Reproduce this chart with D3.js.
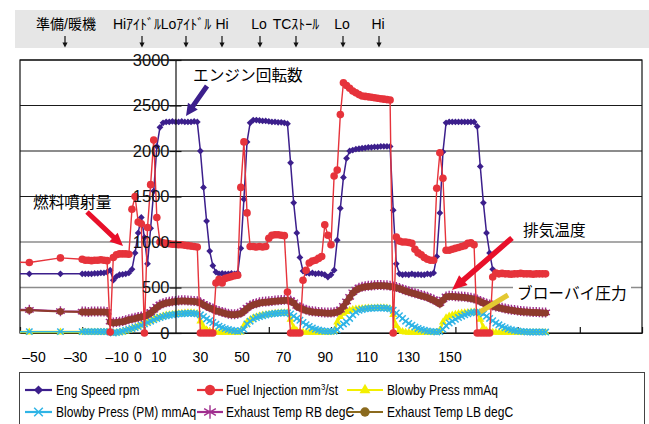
<!DOCTYPE html>
<html>
<head>
<meta charset="utf-8">
<script src="https://cdn.jsdelivr.net/npm/d3@7"></script>
<style>
    body { margin: 0; background: #fff; }
    text { font-family: "Liberation Sans", Arial, "Noto Sans CJK JP", sans-serif; }
    .jp { font-family: "Noto Sans CJK JP", sans-serif; }
</style>
</head>
<body>
<svg id="chart"></svg>
<script>

// Data ///////////////////////////////////////////////////////////////////////

// sample times (s); sparse at first, then 1 Hz logging
const times = [-55, -47, -37,
    -30, -29, -28, -27, -26, -25, -24, -23, -22, -21, -20, -19, -18, -17, -16, -15,
    -14, -13, -12, -11, -10, -9, -8, -7, -6, -5, -4, -3, -2, -1, 0, 1, 2, 3, 4, 5, 6, 7, 8,
    9, 10, 11, 12, 13, 14, 15, 16, 17, 18, 19, 20, 21,
    22, 23, 24, 25, 26, 27, 28, 29, 30, 31, 32, 33, 34, 35, 36,
    37, 38, 39, 40, 41, 42, 43, 44, 45, 46, 47, 48, 49, 50, 51, 52, 53,
    54, 55, 56, 57, 58, 59, 60, 61, 62, 63, 64, 65, 66, 67, 68, 69, 70,
    71, 72, 73, 74, 75, 76, 77, 78, 79, 80, 81, 82, 83, 84, 85, 86, 87,
    88, 89, 90, 91, 92, 93, 94, 95, 96, 97, 98, 99, 100, 101, 102, 103,
    104, 105, 106, 107, 108, 109, 110, 111, 112, 113, 114, 115, 116, 117, 118, 119];

const engSpeed = [650, 650, 650,
    650, 650, 650, 650, 655, 655, 660, 660, 670, 690, 580, 620, 640, 645, 650, 660,
    700, 880, 1100, 1270, 1050, 760, 1150, 1560, 2050, 2260, 2310,
    2320, 2320, 2325, 2320, 2320, 2325, 2320, 2320, 2320, 2325, 2320,
    2000, 1600, 1230, 900, 740, 670,
    650, 655, 650, 650, 655, 650, 660,
    930, 1470, 2100, 2310,
    2340, 2340, 2335, 2330, 2330, 2325, 2320, 2320, 2315, 2315, 2310,
    2300, 1870, 1430, 1100, 830, 680,
    660, 655, 660, 650, 655, 650, 640,
    615, 640, 690, 1020, 1370, 1710, 1920, 2000,
    2010, 2020, 2025, 2030, 2035, 2040, 2040, 2045, 2045, 2050, 2050, 2050, 2050,
    1350, 760, 650,
    640, 645, 640, 650, 640, 645, 640, 640, 650, 645, 660,
    840, 1320, 1990, 2310,
    2320, 2320, 2320, 2320, 2320, 2320, 2320, 2320, 2320,
    2270, 1830, 1430, 1100, 880, 700, 660,
    650, 650, 650, 650, 650, 650, 650, 650, 650, 650, 650, 650, 650, 650, 650, 650];

const fuelInjection = [780, 775, 825,
    810, 800, 800, 795, 800, 800, 805, 800, 795, 10, 830, 860, 870, 870, 870, 865,
    1360, 1500, 1220, 1200, 0, 1160, 1630, 2120, 1270, 1000,
    990, 985, 980, 975, 975, 970, 970, 965, 960, 955, 950, 945,
    0, 0, 0, 0, 0,
    550, 590, 550, 600, 610, 620, 630, 635,
    1600, 2100, 1320, 950, 950, 945, 950, 945, 950,
    1040, 1075, 1080, 1080, 1075, 1070,
    450, 0, 0, 0, 0,
    580, 690, 770, 790, 800, 820, 840,
    1190, 1075, 970, 1725, 1790, 2400, 2750,
    2720, 2690, 2660, 2640, 2620, 2605, 2600, 2595, 2590, 2585, 2580, 2575, 2570, 2565, 2560,
    0, 1055, 1010, 1000, 1000, 995, 985, 920, 880, 860, 830, 810, 800, 800,
    1590, 1980, 1700, 910, 910, 920, 930, 940, 950, 960, 985, 990, 970,
    0, 0, 0, 0, 0, 615, 660,
    650, 655, 650, 650, 645, 650, 650, 655, 650, 650, 650, 645, 650, 650, 650, 650];

const blowbyPress = [10, 10, 10,
    10, 10, 10, 10, 10, 10, 10, 10, 10, 5, 0, 0, 5, 10, 20, 30,
    45, 60, 75, 90, 105, 120, 135, 150, 165, 175, 185, 195, 200, 205, 210, 212, 215, 218, 220, 220, 218, 212, 130,
    65, 35, 20, 12, 8, 5, 5, 5, 5, 5, 5, 5, 8,
    80, 120, 145, 165, 178, 188, 195, 200, 205, 210, 215, 218, 220, 222, 220,
    150, 60, 25, 12, 8, 5, 5, 5, 5, 5, 5, 5, 5, 8, 20, 120, 180,
    215, 235, 248, 258, 262, 265, 268, 270, 272, 272, 274, 275, 275, 275, 272, 265, 200,
    80, 30, 15, 8, 5, 5, 5, 5, 5, 5, 5, 5, 5, 8, 30, 120, 165,
    185, 195, 205, 212, 218, 222, 225, 228, 228, 220, 150, 60, 25, 12, 8, 5,
    5, 5, 5, 5, 5, 5, 5, 5, 5, 5, 5, 5, 5, 5, 5, 5];

const blowbyPressPM = [15, 15, 15,
    15, 15, 15, 15, 15, 15, 15, 15, 15, 10, 0, 5, 10, 20, 30, 40,
    50, 60, 70, 85, 100, 115, 130, 145, 160, 170, 180, 190, 195, 200, 205, 210, 212, 215, 218, 218, 215, 210, 200,
    180, 155, 135, 115, 95, 75, 60, 48, 38, 30, 25, 20, 25,
    40, 100, 130, 155, 170, 180, 190, 198, 205, 210, 215, 218, 220, 222, 222,
    210, 185, 160, 140, 115, 92, 72, 55, 42, 32, 25, 20, 18, 18, 20, 35, 70,
    100, 120, 160, 200, 230, 250, 258, 265, 270, 272, 275, 275, 275, 275, 272, 265, 250,
    220, 190, 160, 130, 105, 85, 65, 50, 40, 30, 22, 18, 15, 12, 15, 40, 80,
    110, 130, 150, 170, 185, 200, 212, 222, 228, 230, 225, 210, 185, 160, 135, 110,
    90, 72, 58, 45, 35, 28, 22, 18, 15, 12, 10, 10, 10, 10, 10, 10];

const exhaustRB = [255, 255, 240,
    235, 235, 232, 235, 235, 236, 235, 235, 232, 125, 115, 120, 125, 132, 140, 150,
    158, 168, 176, 182, 192, 208, 228, 258, 290, 312, 328, 338, 343, 348, 352, 358, 360, 360, 358, 355, 352, 348, 338,
    318, 298, 282, 268, 252, 242, 232, 222, 212, 207, 206, 212, 222,
    248, 278, 302, 318, 328, 338, 343, 346, 348, 352, 356, 360, 363, 366, 368,
    358, 338, 298, 282, 270, 255, 245, 240, 235, 232, 228, 226, 225, 225, 228, 236, 258,
    298, 348, 398, 448, 478, 498, 508, 515, 520, 523, 526, 528, 528, 526, 524, 520, 512,
    505, 495, 482, 470, 458, 448, 438, 428, 418, 408, 398, 382, 368, 348, 328, 368, 402,
    408, 408, 405, 402, 400, 398, 392, 388, 378, 368, 352, 338, 325, 312, 302, 292,
    285, 278, 270, 262, 256, 252, 246, 242, 238, 236, 234, 232, 230, 228, 226, 226];

const exhaustLB = [250, 250, 235,
    230, 230, 228, 230, 230, 232, 230, 230, 228, 120, 110, 115, 120, 125, 135, 145,
    150, 160, 170, 175, 185, 200, 220, 250, 280, 305, 320, 330, 335, 340, 345, 350, 352, 352, 350, 348, 345, 340, 330,
    310, 290, 275, 260, 245, 235, 225, 215, 205, 200, 200, 205, 215,
    240, 270, 295, 310, 320, 330, 335, 338, 340, 345, 348, 352, 355, 358, 360,
    350, 330, 290, 275, 262, 248, 238, 232, 228, 225, 222, 220, 218, 218, 222, 230, 250,
    290, 340, 390, 440, 470, 490, 500, 507, 512, 515, 518, 520, 520, 518, 516, 512, 505,
    498, 488, 475, 462, 450, 440, 430, 420, 410, 400, 390, 375, 360, 340, 320, 360, 395,
    400, 400, 398, 395, 392, 390, 385, 380, 370, 360, 345, 330, 318, 305, 295, 285,
    278, 270, 262, 255, 250, 245, 240, 236, 232, 230, 228, 226, 224, 222, 220, 220];

const yTicks = [0, 500, 1000, 1500, 2000, 2500, 3000];
const xTicks = [-50, -30, -10, 10, 30, 50, 70, 90, 110, 130, 150];
const xTickLabels = [-50, -30, -10, 0, 10, 30, 50, 70, 90, 110, 130, 150];

const phases = ["準備/暖機", "Hiｱｲﾄﾞﾙ", "Loｱｲﾄﾞﾙ", "Hi", "Lo", "TCｽﾄｰﾙ", "Lo", "Hi"];


// Layout /////////////////////////////////////////////////////////////////////

const params = {
    width: 649,
    height: 424,
    left: 20,
    right: 642,
    top: 60,
    bottom: 333
};

const phaseTextX = [66, 137, 186, 222, 259, 296, 342, 378];
const phaseArrowX = [65, 142, 186, 222, 260, 296, 343, 379];

const series = [
    { name: "Blowby Press mmAq", values: blowbyPress, color: "#f3ef00", width: 2.5, marker: "triangle" },
    { name: "Blowby Press (PM) mmAq", values: blowbyPressPM, color: "#2fb4e6", width: 1.5, marker: "times" },
    { name: "Exhaust Temp RB degC", values: exhaustRB, color: "#a02e8e", width: 2, marker: "asterisk" },
    { name: "Exhaust Temp LB degC", values: exhaustLB, color: "#8e3a2d", legendColor: "#8b6a1e", width: 2, marker: "dot" },
    { name: "Eng Speed rpm", values: engSpeed, color: "#3c1f8c", width: 1.5, marker: "diamond" },
    { name: "Fuel Injection mm3/st", values: fuelInjection, color: "#e6333b", width: 1.4, marker: "circle" }
];

const legendOrder = [
    "Eng Speed rpm", "Fuel Injection mm3/st", "Blowby Press mmAq",
    "Blowby Press (PM) mmAq", "Exhaust Temp RB degC", "Exhaust Temp LB degC"
];


// Scales /////////////////////////////////////////////////////////////////////

const x = d3.scaleLinear().domain([-50, 150]).range([params.left, params.right]);
const y = d3.scaleLinear().domain([0, 3000]).range([params.bottom, params.top]);
// the printed tick labels sit on their own (narrower) row
const xLabel = d3.scaleLinear().domain([-50, 150]).range([34, 450]);


// Svg ////////////////////////////////////////////////////////////////////////

const svg = d3.select("#chart")
    .attr("width", params.width)
    .attr("height", params.height)
    .attr("viewBox", [0, 0, params.width, params.height]);

svg.append("defs").append("clipPath")
    .attr("id", "plot-clip")
    .append("rect")
        .attr("x", params.left)
        .attr("y", 0)
        .attr("width", params.right - params.left)
        .attr("height", 360);


// Header /////////////////////////////////////////////////////////////////////

const header = svg.append("g");

header.append("rect")
    .attr("x", 15)
    .attr("y", 10)
    .attr("width", 634)
    .attr("height", 38)
    .attr("fill", "#e6e6e6");

header.selectAll(".phase")
    .data(phases)
    .join("text")
    .attr("class", "phase")
    .attr("x", (d, i) => phaseTextX[i])
    .attr("y", 29)
    .attr("text-anchor", "middle")
    .attr("font-size", 14)
    .text(d => d);

// small down arrows under each phase name
const phaseArrow = header.selectAll(".phase-arrow")
    .data(phaseArrowX)
    .join("g")
    .attr("class", "phase-arrow")
    .attr("transform", d => `translate(${d}, 0)`);

phaseArrow.append("line")
    .attr("y1", 36).attr("y2", 45)
    .attr("stroke", "#111")
    .attr("stroke-width", 1.2);

phaseArrow.append("path")
    .attr("d", "M-2.6,42.5L2.6,42.5L0,47.5Z")
    .attr("fill", "#111");


// Grid ///////////////////////////////////////////////////////////////////////

svg.append("g")
    .selectAll("line")
    .data(yTicks.filter(d => d > 0))
    .join("line")
    .attr("x1", params.left)
    .attr("x2", params.right)
    .attr("y1", d => y(d))
    .attr("y2", d => y(d))
    .attr("stroke", d => d <= 1000 ? "#8c8c8c" : "#1a1a1a")
    .attr("stroke-width", d => d <= 1000 ? 1.6 : 1.1);

svg.append("rect")
    .attr("x", params.left)
    .attr("y", params.top)
    .attr("width", params.right - params.left)
    .attr("height", params.bottom - params.top)
    .attr("fill", "none")
    .attr("stroke", "#111")
    .attr("stroke-width", 1.2);

// x axis: ticks pointing up, no labels
svg.append("g")
    .attr("transform", `translate(0, ${params.bottom})`)
    .call(d3.axisTop(x).tickValues(xTicks).tickSize(6).tickSizeOuter(0).tickFormat(""))
    .call(g => g.selectAll("line, path").attr("stroke", "#111").attr("stroke-width", 1.2));


// Series /////////////////////////////////////////////////////////////////////

const plot = svg.append("g").attr("clip-path", "url(#plot-clip)");

series.forEach(s => plot.call(addSeries, s));


// Y axis (drawn over the data) ///////////////////////////////////////////////

const yAxis = svg.append("g")
    .attr("transform", `translate(${x(0)}, 0)`);

yAxis.append("g")
    .call(d3.axisRight(y).tickValues(yTicks).tickSize(6).tickSizeOuter(0).tickFormat(""))
    .call(g => g.selectAll("line, path").attr("stroke", "#111").attr("stroke-width", 1.2));

yAxis.append("g")
    .call(d3.axisLeft(y).tickValues(yTicks).tickSize(6).tickSizeOuter(0).tickPadding(0)
        .tickFormat(d3.format("d")))
    .call(g => g.select(".domain").remove())
    .call(g => g.selectAll("line").attr("stroke", "#111").attr("stroke-width", 1.2))
    .call(g => g.selectAll("text")
        .attr("font-size", 16.5)
        .attr("font-family", "Liberation Sans, Arial, sans-serif")
        .attr("fill", "#111"));

// x tick labels
svg.append("g")
    .selectAll("text")
    .data(xTickLabels)
    .join("text")
    .attr("x", d => xLabel(d))
    .attr("y", 362)
    .attr("text-anchor", "middle")
    .attr("font-size", 14)
    .text(d => d < 0 ? "–" + Math.abs(d) : d);


// Annotations ////////////////////////////////////////////////////////////////

const notes = svg.append("g").attr("class", "jp");

notes.append("text")
    .attr("x", 193).attr("y", 81)
    .attr("font-size", 15.7)
    .text("エンジン回転数");
notes.append("polygon")
    .attr("points", arrowPoints([207, 86], [186, 116], 5, 12, 12))
    .attr("fill", "#3c1f8c");

notes.append("text")
    .attr("x", 33).attr("y", 208)
    .attr("font-size", 15.7)
    .text("燃料噴射量");
notes.append("polygon")
    .attr("points", arrowPoints([87, 212], [123, 246], 5, 13, 12))
    .attr("fill", "#e8102a");

notes.append("text")
    .attr("x", 523).attr("y", 236)
    .attr("font-size", 15.7)
    .text("排気温度");
notes.append("polygon")
    .attr("points", arrowPoints([512, 238], [452, 290], 5.5, 15, 13))
    .attr("fill", "#e8102a");

notes.append("rect")
    .attr("x", 513).attr("y", 283)
    .attr("width", 118).attr("height", 20)
    .attr("fill", "#fff");
notes.append("text")
    .attr("x", 517).attr("y", 299)
    .attr("font-size", 15.7)
    .text("ブローバイ圧力");
notes.append("line")
    .attr("x1", 508).attr("y1", 295)
    .attr("x2", 480).attr("y2", 312)
    .attr("stroke", "#e3c832")
    .attr("stroke-width", 5);


// Legend /////////////////////////////////////////////////////////////////////

const legend = svg.append("g");

legend.append("rect")
    .attr("x", 19.5).attr("y", 372.5)
    .attr("width", 625).attr("height", 60)
    .attr("fill", "#fff")
    .attr("stroke", "#444");

const legendCols = [
    { x1: 25, x2: 52, tx: 56 },
    { x1: 197, x2: 223, tx: 226 },
    { x1: 347, x2: 383, tx: 387 }
];

legendOrder.forEach((name, i) => {
    const s = series.find(d => d.name === name);
    const col = legendCols[i % 3];
    const ly = i < 3 ? 390 : 412;
    const c = s.legendColor || s.color;
    const item = legend.append("g");

    item.append("line")
        .attr("x1", col.x1).attr("x2", col.x2)
        .attr("y1", ly).attr("y2", ly)
        .attr("stroke", c)
        .attr("stroke-width", 2.2);

    item.append("g")
        .attr("transform", `translate(${(col.x1 + col.x2) / 2}, ${ly})`)
        .call(drawMarker, s.marker, c, 1.35);

    // narrow face: squeeze a regular sans horizontally
    const t = item.append("text")
        .attr("transform", `translate(${col.tx}, ${ly + 5}) scale(.83, 1)`)
        .attr("font-size", 14.5);

    if (name === "Fuel Injection mm3/st") {
        t.append("tspan").text("Fuel Injection mm");
        t.append("tspan").attr("dy", -5).attr("font-size", 9.5).text("3");
        t.append("tspan").attr("dy", 5).text("/st");
    } else {
        t.text(name);
    }
});


// Functions //////////////////////////////////////////////////////////////////

function addSeries(container, s) {

    const pts = s.values
        .map((v, i) => [times[i], v])
        .filter(d => d[0] !== undefined);

    const line = d3.line()
        .x(d => x(d[0]))
        .y(d => y(d[1]));

    container.append("path")
        .datum(pts)
        .attr("d", line)
        .attr("fill", "none")
        .attr("stroke", s.color)
        .attr("stroke-width", s.width)
        .attr("stroke-linejoin", "round");

    container.append("g")
        .selectAll("g")
        .data(pts)
        .join("g")
        .attr("transform", d => `translate(${x(d[0])}, ${y(d[1])})`)
        .each(function() { d3.select(this).call(drawMarker, s.marker, s.color, 1); });
}

function drawMarker(g, type, color, k) {

    if (type === "circle" || type === "dot") {
        g.append("circle")
            .attr("r", (type === "circle" ? 3.8 : 3.5) * k)
            .attr("fill", color);
    } else if (type === "diamond") {
        const r = 3.4 * k;
        g.append("path")
            .attr("d", `M0,${-r}L${r},0L0,${r}L${-r},0Z`)
            .attr("fill", color);
    } else if (type === "triangle") {
        g.append("path")
            .attr("d", d3.symbol(d3.symbolTriangle, 28 * k * k)())
            .attr("fill", color);
    } else if (type === "times") {
        const r = 3.2 * k;
        g.append("path")
            .attr("d", `M${-r},${-r}L${r},${r}M${-r},${r}L${r},${-r}`)
            .attr("stroke", color)
            .attr("stroke-width", 1.5);
    } else if (type === "asterisk") {
        const r = 5 * k, a = r * .87, b = r * .5;
        g.append("path")
            .attr("d", `M0,${-r}V${r}M${-a},${-b}L${a},${b}M${-a},${b}L${a},${-b}`)
            .attr("stroke", color)
            .attr("stroke-width", 1.4);
    }
}

function arrowPoints([x1, y1], [x2, y2], shaft, headLen, headW) {

    // Outline of a straight filled arrow from p1 to the tip p2
    const len = Math.hypot(x2 - x1, y2 - y1);
    const ux = (x2 - x1) / len, uy = (y2 - y1) / len;
    const nx = -uy, ny = ux;
    const bx = x2 - ux * headLen, by = y2 - uy * headLen;
    const s = shaft / 2, h = headW / 2;

    return [
        [x1 + nx * s, y1 + ny * s],
        [bx + nx * s, by + ny * s],
        [bx + nx * h, by + ny * h],
        [x2, y2],
        [bx - nx * h, by - ny * h],
        [bx - nx * s, by - ny * s],
        [x1 - nx * s, y1 - ny * s]
    ].map(p => p.join(",")).join(" ");
}

</script>
</body>
</html>
